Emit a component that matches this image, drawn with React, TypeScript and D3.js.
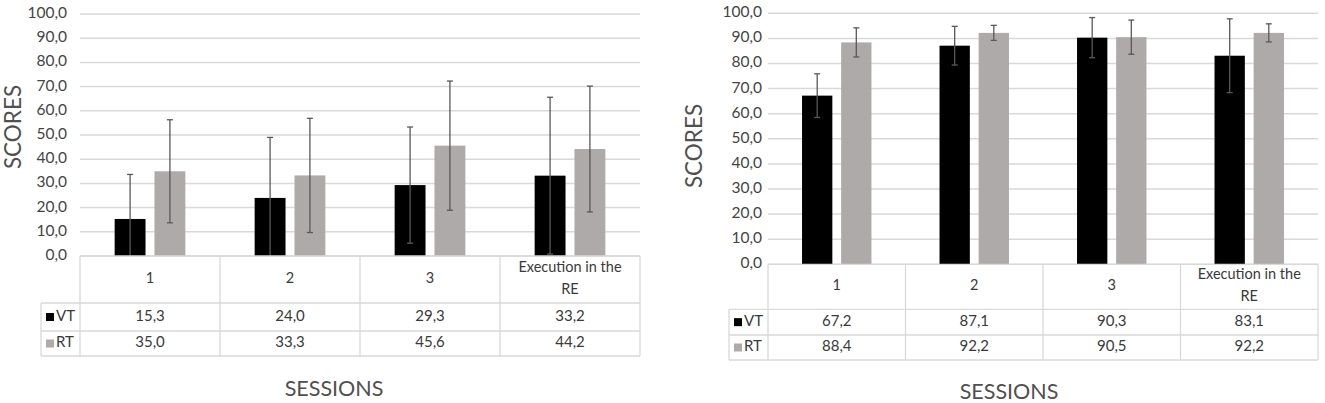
import * as d3 from "d3";

// sessions and the two training groups
const sessions = ["1", "2", "3", "Execution in the RE"];
const series = ["VT", "RT"];
const seriesColor = ["#000000", "#aeaaaa"];

// left panel: means and error bar half-widths
const leftVT = [15.3, 24.0, 29.3, 33.2];
const leftVTErr = [18.4, 25.0, 24.0, 32.4];
const leftRT = [35.0, 33.3, 45.6, 44.2];
const leftRTErr = [21.3, 23.6, 26.7, 26.0];

// right panel
const rightVT = [67.2, 87.1, 90.3, 83.1];
const rightVTErr = [8.7, 7.7, 8.0, 14.7];
const rightRT = [88.4, 92.2, 90.5, 92.2];
const rightRTErr = [5.8, 3.0, 6.8, 3.6];

const yTicks = d3.range(0, 101, 10);

const fmt = d3
  .formatLocale({ decimal: ",", thousands: ".", grouping: [3], currency: ["", ""] })
  .format(".1f");

const FONT = "Lato, 'Open Sans', sans-serif";

type Layout = {
  x0: number;
  x1: number;
  y0: number;
  y1: number;
  rows: number[]; // header bottom, VT bottom, RT bottom
  legendX: number;
  tickX: number;
  scoresX: number;
  scoresY: number;
  sessionsX: number;
  sessionsY: number;
};

function Panel({ layout, values, errors }: { layout: Layout; values: number[][]; errors: number[][] }) {
  const { x0, x1, y0, y1, rows, legendX } = layout;
  const y = d3.scaleLinear().domain([0, 100]).range([y1, y0]);
  const x = d3.scaleBand().domain(sessions).range([x0, x1]);
  const inner = d3
    .scaleBand()
    .domain(series)
    .range([0, x.bandwidth()])
    .paddingInner(0.225)
    .paddingOuter(0.87);

  const grid = "#d9d9d9";
  const rowMid = (a: number, b: number) => (a + b) / 2;
  const textCol = "#3a3a3a";

  return (
    <g>
      {yTicks.map((t) => (
        <g key={t}>
          <line x1={x0} x2={x1} y1={y(t)} y2={y(t)} stroke={grid} strokeWidth={1.5} />
          <text
            x={layout.tickX}
            y={y(t)}
            textAnchor="end"
            dominantBaseline="middle"
            fontSize={15.5}
            fill="#444"
            fontFamily={FONT}
          >
            {fmt(t)}
          </text>
        </g>
      ))}

      {series.map((s, si) =>
        sessions.map((c, ci) => {
          const v = values[si][ci];
          const e = errors[si][ci];
          const bx = (x(c) ?? 0) + (inner(s) ?? 0);
          const cx = bx + inner.bandwidth() / 2;
          const top = y(Math.min(100, v + e));
          const bot = y(Math.max(0, v - e));
          return (
            <g key={s + c}>
              <rect x={bx} y={y(v)} width={inner.bandwidth()} height={y(0) - y(v)} fill={seriesColor[si]} />
              <line x1={cx} x2={cx} y1={top} y2={bot} stroke="#595959" strokeWidth={1.3} />
              <line x1={cx - 3} x2={cx + 3} y1={top} y2={top} stroke="#595959" strokeWidth={1.3} />
              {v - e > 0 && (
                <line x1={cx - 3} x2={cx + 3} y1={bot} y2={bot} stroke="#595959" strokeWidth={1.3} />
              )}
            </g>
          );
        })
      )}

      {/* data table */}
      <g stroke={grid} strokeWidth={1.3} fill="none">
        <line x1={x0} x2={x1} y1={y1} y2={y1} />
        {rows.map((r) => (
          <line key={r} x1={legendX} x2={x1} y1={r} y2={r} />
        ))}
        <line x1={legendX} x2={legendX} y1={rows[0]} y2={rows[2]} />
        {sessions.map((c) => (
          <line key={c} x1={x(c)} x2={x(c)} y1={y1} y2={rows[2]} />
        ))}
        <line x1={x1} x2={x1} y1={y1} y2={rows[2]} />
      </g>

      {sessions.map((c) => {
        const cx = (x(c) ?? 0) + x.bandwidth() / 2;
        const my = rowMid(y1, rows[0]);
        const words = c.length > 10 ? ["Execution in the", "RE"] : [c];
        return (
          <text key={c} textAnchor="middle" fontSize={14.5} fill={textCol} fontFamily={FONT}>
            {words.map((w, i) => (
              <tspan key={i} x={cx} y={my + (i - (words.length - 1) / 2) * 22} dominantBaseline="middle">
                {w}
              </tspan>
            ))}
          </text>
        );
      })}

      {series.map((s, si) => {
        const ra = rows[si];
        const rb = rows[si + 1];
        const my = rowMid(ra, rb);
        return (
          <g key={s}>
            <rect x={legendX + 5} y={my - 4} width={8} height={8} fill={seriesColor[si]} />
            <text
              x={legendX + 15}
              y={my}
              dominantBaseline="middle"
              fontSize={15}
              fill={textCol}
              fontFamily={FONT}
            >
              {s}
            </text>
            {sessions.map((c, ci) => (
              <text
                key={c}
                x={(x(c) ?? 0) + x.bandwidth() / 2}
                y={my}
                textAnchor="middle"
                dominantBaseline="middle"
                fontSize={15}
                fill={textCol}
                fontFamily={FONT}
              >
                {fmt(values[si][ci])}
              </text>
            ))}
          </g>
        );
      })}

      <text
        transform={`translate(${layout.scoresX},${layout.scoresY}) rotate(-90)`}
        textAnchor="middle"
        dominantBaseline="middle"
        fontSize={22.5}
        fill="#505050"
        fontFamily={FONT}
      >
        SCORES
      </text>
      <text
        x={layout.sessionsX}
        y={layout.sessionsY}
        textAnchor="middle"
        fontSize={21.5}
        fill="#505050"
        fontFamily={FONT}
      >
        SESSIONS
      </text>
    </g>
  );
}

const leftLayout: Layout = {
  x0: 80,
  x1: 640,
  y0: 14,
  y1: 256,
  rows: [303, 331, 356],
  legendX: 41,
  tickX: 67,
  scoresX: 15,
  scoresY: 127,
  sessionsX: 334,
  sessionsY: 396,
};

const rightLayout: Layout = {
  x0: 768,
  x1: 1318,
  y0: 13.3,
  y1: 264.3,
  rows: [309.3, 335, 360],
  legendX: 729,
  tickX: 762,
  scoresX: 696,
  scoresY: 146,
  sessionsX: 1009,
  sessionsY: 399,
};

export default function App() {
  return (
    <svg
      width={1325}
      height={403}
      style={{ position: "absolute", left: 0, top: 0, background: "#fff" }}
    >
      <rect width={1325} height={403} fill="#fff" />
      <Panel layout={leftLayout} values={[leftVT, leftRT]} errors={[leftVTErr, leftRTErr]} />
      <Panel layout={rightLayout} values={[rightVT, rightRT]} errors={[rightVTErr, rightRTErr]} />
    </svg>
  );
}
